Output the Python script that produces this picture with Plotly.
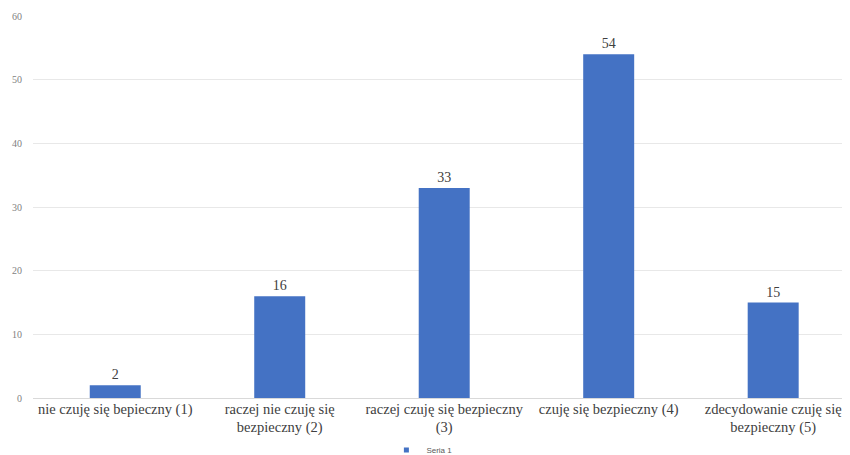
import plotly.graph_objects as go

categories = [
    "nie czuję się bepieczny (1)",
    "raczej nie czuję się<br>bezpieczny (2)",
    "raczej czuję się bezpieczny<br>(3)",
    "czuję się bezpieczny (4)",
    "zdecydowanie czuję się<br>bezpieczny (5)",
]
values = [2, 16, 33, 54, 15]
series_name = "Seria 1"
y_ticks = [0, 10, 20, 30, 40, 50, 60]

bar_color = "#4472C4"

fig = go.Figure()
fig.add_trace(go.Bar(
    x=categories, y=values, name=series_name,
    marker=dict(color=bar_color, line=dict(width=0)),
    width=0.31,
    text=[str(v) for v in values], textposition="outside",
    textfont=dict(family="Liberation Serif", size=14, color="#404040"),
    cliponaxis=False,
    showlegend=False,
))
# legend entry with small square marker
fig.add_trace(go.Scatter(
    x=[None], y=[None], mode="markers", name=series_name,
    marker=dict(symbol="square", size=5, color=bar_color),
    showlegend=True,
))

fig.update_layout(
    width=842, height=447,
    margin=dict(l=25, r=0, t=8, b=57, autoexpand=False),
    paper_bgcolor="white", plot_bgcolor="white",
    bargap=0.69,
    showlegend=True,
    legend=dict(orientation="h", x=0.476, xanchor="center", y=-0.136, yanchor="middle",
                font=dict(family="Liberation Sans", size=8, color="#595959"),
                itemwidth=30, tracegroupgap=0),
    xaxis=dict(
        tickfont=dict(family="Liberation Serif", size=14.5, color="#404040"),
        showgrid=False, showline=False, ticks="",
        range=[-0.5, 4.467],
    ),
    yaxis=dict(
        range=[0, 60], tickvals=y_ticks,
        tickfont=dict(family="Liberation Serif", size=10, color="#7f7f7f"),
        showgrid=True, gridcolor="#e8e8e8", gridwidth=1,
        zeroline=True, zerolinecolor="#d9d9d9", zerolinewidth=1,
        showline=False, ticks="", ticklen=0, ticklabelstandoff=10,
    ),
)

fig.write_html("out.html")
